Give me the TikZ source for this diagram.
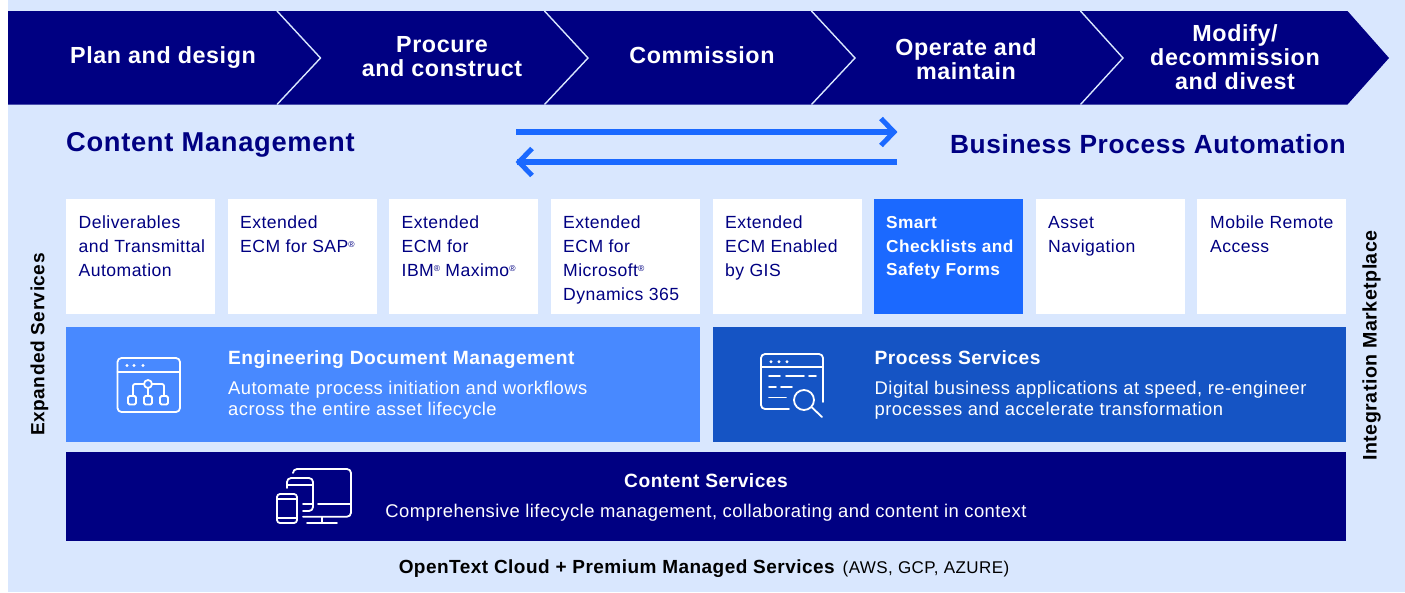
\documentclass[tikz,border=0pt]{standalone}
\usepackage{fontspec}
\setmainfont[LetterSpace=2.5]{Liberation Sans}
\definecolor{navy}{HTML}{000082}
\definecolor{pale}{HTML}{D9E7FE}
\definecolor{bright}{HTML}{1B69FF}
\definecolor{midblue}{HTML}{4889FF}
\definecolor{deepblue}{HTML}{1554C4}
\newcommand{\fs}[2]{\fontsize{#1}{#2}\selectfont}
\newcommand{\reg}{\raisebox{5.5pt}{\fs{8.5}{9}\textregistered}}
\tikzset{
  x=1pt,y=-1pt,
  stagetxt/.style={text=white,font=\fs{23.3}{24}\bfseries,align=center,inner sep=0},
  headtxt/.style={text=navy,font=\fs{27}{27}\bfseries,inner sep=0},
  cardbox/.style={inner sep=0,anchor=north west,minimum height=115pt,minimum width=149pt},
  cardtxt/.style={text=navy,font=\fs{17.6}{23.8},align=left,anchor=north west,inner sep=0},
  paneltitle/.style={text=white,font=\fs{19.2}{20}\bfseries,anchor=base west,inner sep=0},
  paneltxt/.style={text=white,font=\fs{18.4}{21},align=left,anchor=north west,inner sep=0},
  sidetxt/.style={text=black,font=\fs{19.1}{20}\bfseries,rotate=90,inner sep=0},
  flow/.style={draw=bright,line width=5.5pt},
  flowhead/.style={draw=bright,line width=5pt},
  icon/.style={draw=white,line width=1.8pt,line cap=round,line join=round},
}
\begin{document}
\begin{tikzpicture}
\useasboundingbox (0,0) rectangle (1405,592);
\fill[white] (0,0) rectangle (1405,592);
\fill[pale] (8,0) rectangle (1405,592);
% stage band
\fill[navy] (8,11) -- (1347.5,11) -- (1389,58) -- (1347.5,104.5) -- (8,104.5) -- cycle;
\foreach \a/\b in {277/320.5,544.5/588,811.5/855,1080.5/1123}
  \draw[pale,line width=1.4pt,line join=miter] (\a,11) -- (\b,58) -- (\a,104.5);
\node[stagetxt] (s1) at (163,58) {Plan and design};
\node[stagetxt] (s2) at (442,56.5) {Procure\\and construct};
\node[stagetxt] (s3) at (702,55) {Commission};
\node[stagetxt] (s4) at (966,59) {Operate and\\maintain};
\node[stagetxt] (s5) at (1235,57) {Modify/\\decommission\\and divest};
% headings and arrows
\node[headtxt,font=\fs{27.3}{27}\bfseries,anchor=base west] (cm) at (66,151) {Content Management};
\node[headtxt,font=\fs{26.3}{27}\bfseries,anchor=base east] (bpa) at (1346,153) {Business Process Automation};
\coordinate (aL) at (516,132); \coordinate (aR) at (895,132);
\coordinate (bL) at (517,162); \coordinate (bR) at (897,162);
\draw[flow] (aL) -- (aR);
\draw[flowhead,line cap=butt,line join=miter] (881,118.5) -- (894,132) -- (881,145.5);
\draw[flow] (bR) -- (bL);
\draw[flowhead,line cap=butt,line join=miter] (532,148.5) -- (519,162) -- (532,175.5);
% cards
\node[cardbox,fill=white] (c1) at (66,199) {};
\node[cardbox,fill=white] (c2) at (228,199) {};
\node[cardbox,fill=white] (c3) at (389,199) {};
\node[cardbox,fill=white] (c4) at (551,199) {};
\node[cardbox,fill=white] (c5) at (713,199) {};
\node[cardbox,fill=bright] (c6) at (874,199) {};
\node[cardbox,fill=white] (c7) at (1036,199) {};
\node[cardbox,fill=white] (c8) at (1197,199) {};
\node[cardtxt] (t1) at (78.5,216) {Deliverables\\and Transmittal\\Automation};
\node[cardtxt] (t2) at (240,216) {Extended\\ECM for SAP\reg};
\node[cardtxt] (t3) at (401.5,216) {Extended\\ECM for\\IBM\reg{} Maximo\reg};
\node[cardtxt] (t4) at (563,216) {Extended\\ECM for\\Microsoft\reg\\Dynamics 365};
\node[cardtxt] (t5) at (725,216) {Extended\\ECM Enabled\\by GIS};
\node[cardtxt,text=white,font=\fs{17.3}{23.8}\bfseries] (t6) at (886,216) {Smart\\Checklists and\\Safety Forms};
\node[cardtxt] (t7) at (1048,216) {Asset\\Navigation};
\node[cardtxt] (t8) at (1210,216) {Mobile Remote\\Access};
% panels
\fill[midblue] (66,327) rectangle (700,442);
\fill[deepblue] (713,327) rectangle (1346,442);
\fill[navy] (66,452) rectangle (1346,541);
\node[paneltitle] (p1) at (228,364) {Engineering Document Management};
\node[paneltxt] (p1t) at (228,381) {Automate process initiation and workflows\\across the entire asset lifecycle};
\node[paneltitle] (p2) at (874.5,364) {Process Services};
\node[paneltxt] (p2t) at (874.5,381) {Digital business applications at speed, re-engineer\\processes and accelerate transformation};
\node[paneltitle,anchor=base] (p3) at (706,487) {Content Services};
\node[paneltxt,anchor=base] (p3t) at (706,517) {Comprehensive lifecycle management, collaborating and content in context};
% footer
\node[inner sep=0,anchor=base,text=black] (ft) at (704,573) {{\fs{19}{20}\bfseries OpenText Cloud + Premium Managed Services}\hspace{8pt}{\fs{17}{20}(AWS, GCP, AZURE)}};
% side labels
\node[sidetxt] (sl) at (39.5,344.5) {Expanded Services};
\node[sidetxt,font=\fs{19.6}{20}\bfseries] (sr) at (1371.5,345.5) {Integration Marketplace};
% icon 1
\draw[icon,rounded corners=4pt] (117.5,358) rectangle (180,412);
\draw[icon] (117.5,372) -- (180,372);
\foreach \x in {127,134,143} \fill[white] (\x,365.5) circle (1.6);
\draw[icon] (148,384) circle (4);
\draw[icon,rounded corners=2pt] (144,384) -- (133,384) -- (133,396);
\draw[icon,rounded corners=2pt] (152,384) -- (164,384) -- (164,396);
\draw[icon] (148,388) -- (148,396);
\foreach \x in {132,148,164} \draw[icon,rounded corners=1.5pt] (\x-4,396) rectangle (\x+4,404.5);
% icon 2
\draw[icon,rounded corners=4pt] (789,409) -- (761,409) -- (761,354) -- (823,354) -- (823,402);
\draw[icon] (761,367) -- (823,367);
\foreach \x in {771,779,787} \fill[white] (\x,361.7) circle (1.6);
\draw[icon] (769,376) -- (780,376) (786,376) -- (804,376) (809,376) -- (816,376);
\draw[icon] (769,387) -- (776,387) (781,387) -- (792,387);
\draw[icon] (769,397.5) -- (786,397.5);
\draw[icon] (804,400) circle (10);
\draw[icon] (812,407.5) -- (822,417);
% icon 3
\draw[icon,rounded corners=4pt] (293,473) -- (293,469) -- (351,469) -- (351,516.7) -- (303,516.7);
\draw[icon] (318,504) -- (351,504);
\draw[icon] (322,517) -- (322,523) (307,523) -- (337,523);
\draw[icon,rounded corners=4pt] (287,488) -- (287,478) -- (313,478) -- (313,511) -- (303,511);
\draw[icon] (287,485) -- (313,485) (303,504) -- (313,504);
\draw[icon,rounded corners=3pt] (277,494) rectangle (297,523);
\draw[icon] (277,499) -- (297,499) (277,518) -- (297,518);
\end{tikzpicture}
\end{document}
